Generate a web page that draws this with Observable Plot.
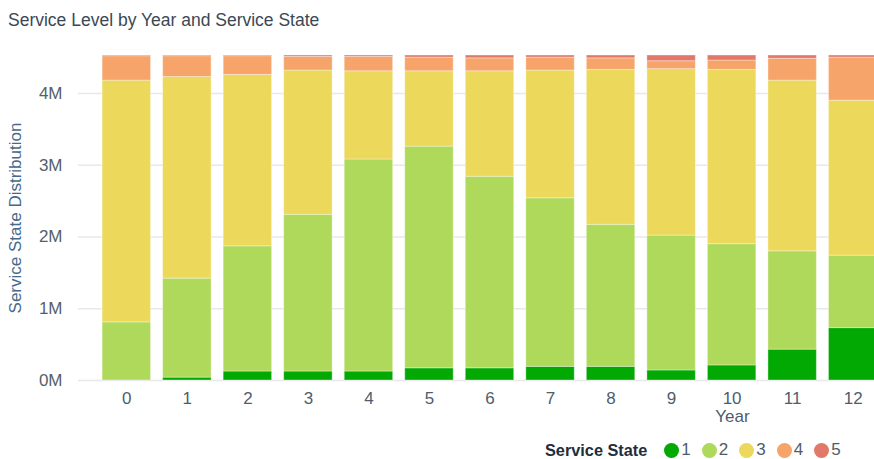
<!DOCTYPE html>
<html>
<head>
<meta charset="utf-8">
<script src="https://cdn.jsdelivr.net/npm/d3@7"></script>
<script src="https://cdn.jsdelivr.net/npm/@observablehq/plot@0.6"></script>
<style>
  html, body { margin: 0; padding: 0; background: #fff; overflow: hidden; }
  body { width: 874px; height: 459px; font-family: "Liberation Sans", Arial, sans-serif; }
  #title { height: 36px; line-height: 40px; padding-left: 8px; font-size: 17.5px; color: #3a4856; white-space: nowrap; }
  #legend { height: 27px; display: flex; align-items: center; padding-left: 545px; padding-top: 11px; padding-bottom: 2px; box-sizing: border-box; font-size: 17px; line-height: 16px; color: #4e5d6c; }
  #legend .ttl { font-weight: bold; font-size: 16.3px; color: #1f2d3d; margin-right: 17px; }
  #legend .item { display: flex; align-items: center; margin-right: 11px; }
  #legend .dot { width: 15px; height: 15px; border-radius: 50%; margin-right: 2px; }
</style>
</head>
<body>
<div id="title">Service Level by Year and Service State</div>
<div id="chart"></div>
<div id="legend"></div>
<script>
// Categories
const years = [0, 1, 2, 3, 4, 5, 6, 7, 8, 9, 10, 11, 12];
const states = ["1", "2", "3", "4", "5"];
const stateColors = ["#02a902", "#afd95a", "#ecd85b", "#f6a46a", "#e27868"];
// Series values (millions)
const state1 = [0, 0.04, 0.125, 0.125, 0.125, 0.17, 0.17, 0.19, 0.19, 0.14, 0.21, 0.43, 0.73];
const state2 = [0.81, 1.38, 1.745, 2.185, 2.955, 3.09, 2.67, 2.35, 1.98, 1.88, 1.69, 1.37, 1.01];
const state3 = [3.37, 2.81, 2.39, 2.01, 1.23, 1.05, 1.47, 1.78, 2.16, 2.32, 2.43, 2.38, 2.16];
const state4 = [0.34, 0.29, 0.26, 0.19, 0.2, 0.19, 0.18, 0.18, 0.16, 0.11, 0.13, 0.305, 0.6];
const state5 = [0.01, 0.01, 0.01, 0.02, 0.02, 0.03, 0.04, 0.03, 0.04, 0.08, 0.07, 0.045, 0.03];
// Tick labels
const yTicks = [0, 1e6, 2e6, 3e6, 4e6];
const yTickLabels = ["0M", "1M", "2M", "3M", "4M"];
const yMax = 4.53e6;

const series = [state1, state2, state3, state4, state5];
const data = [];
years.forEach((yr, i) => {
  series.forEach((s, k) => data.push({year: yr, state: states[k], value: s[i] * 1e6}));
});

const chart = Plot.plot({
  width: 874,
  height: 396,
  marginTop: 19,
  marginBottom: 52,
  marginLeft: 78,
  marginRight: 0,
  style: {fontFamily: "Liberation Sans, Arial, sans-serif", fontSize: "17px", background: "white", overflow: "hidden"},
  x: {type: "band", domain: years, range: [90, 889], paddingInner: 0.2, paddingOuter: 0.2, round: false},
  y: {domain: [0, yMax]},
  color: {domain: states, range: stateColors},
  marks: [
    Plot.gridY(yTicks, {stroke: "#e8e8e8", strokeOpacity: 1, strokeWidth: 1.5}),
    Plot.barY(data, {x: "year", y: "value", fill: "state", stroke: "white", strokeOpacity: 0.35, strokeWidth: 1}),
    Plot.axisY(yTicks, {tickSize: 0, tickPadding: 16, tickFormat: (d) => yTickLabels[yTicks.indexOf(d)], fill: "#555f6a", label: null}),
    Plot.axisX(years, {tickSize: 0, tickPadding: 11, fill: "#4e5d6c", label: null}),
    Plot.text(["Year"], {frameAnchor: "bottom-right", textAnchor: "middle", lineAnchor: "middle", dx: -142, dy: 36, fill: "#4e5d6c", fontSize: 17}),
    Plot.text(["Service State Distribution"], {frameAnchor: "left", textAnchor: "middle", lineAnchor: "middle", rotate: -90, dx: -63, fill: "#46698a", fontSize: 17})
  ]
});
document.getElementById("chart").appendChild(chart);

const legend = document.getElementById("legend");
const t = document.createElement("span");
t.className = "ttl";
t.textContent = "Service State";
legend.appendChild(t);
states.forEach((s, i) => {
  const it = document.createElement("span");
  it.className = "item";
  const d = document.createElement("span");
  d.className = "dot";
  d.style.background = stateColors[i];
  it.appendChild(d);
  const l = document.createElement("span");
  l.textContent = s;
  it.appendChild(l);
  legend.appendChild(it);
});
</script>
</body>
</html>
